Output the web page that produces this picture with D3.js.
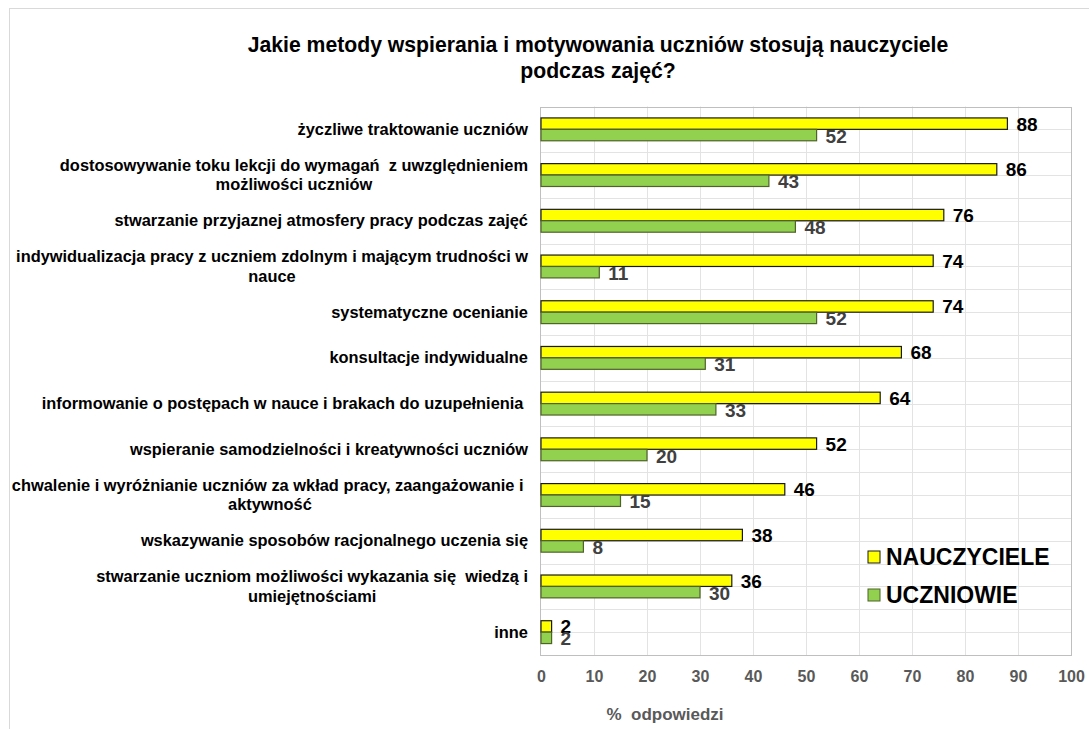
<!DOCTYPE html>
<html>
<head>
<meta charset="utf-8">
<script src="https://cdn.jsdelivr.net/npm/d3@7"></script>
<style>
  html, body { margin: 0; padding: 0; background: #fff; }
  svg text { font-family: "Liberation Sans", Arial, sans-serif; }
</style>
</head>
<body>
<svg id="chart" width="1089" height="729"></svg>
<script>
const categories = [
  "życzliwe traktowanie uczniów",
  "dostosowywanie toku lekcji do wymagań  z uwzględnieniem\nmożliwości uczniów",
  "stwarzanie przyjaznej atmosfery pracy podczas zajęć",
  "indywidualizacja pracy z uczniem zdolnym i mającym trudności w\nnauce",
  "systematyczne ocenianie",
  "konsultacje indywidualne",
  "informowanie o postępach w nauce i brakach do uzupełnienia ",
  "wspieranie samodzielności i kreatywności uczniów",
  "chwalenie i wyróżnianie uczniów za wkład pracy, zaangażowanie i \naktywność",
  "wskazywanie sposobów racjonalnego uczenia się",
  "stwarzanie uczniom możliwości wykazania się  wiedzą i\numiejętnościami",
  "inne"
];
const nauczyciele = [88, 86, 76, 74, 74, 68, 64, 52, 46, 38, 36, 2];
const uczniowie   = [52, 43, 48, 11, 52, 31, 33, 20, 15, 8, 30, 2];
const seriesNames = ["NAUCZYCIELE", "UCZNIOWIE"];
const xTicks = [0, 10, 20, 30, 40, 50, 60, 70, 80, 90, 100];
const titleLines = ["Jakie metody wspierania i motywowania uczniów stosują nauczyciele", "podczas zajęć?"];
const xAxisTitle = "%  odpowiedzi";

const colors = { yellow: "#ffff00", green: "#92d050", yStroke: "#1a1a1a", gStroke: "#4f6228" };

const svg = d3.select("#chart");
const plot = { left: 541, right: 1071, top: 106.5, bottom: 655 };

const x = d3.scaleLinear().domain([0, 100]).range([plot.left, plot.right]);
const y = d3.scaleBand().domain(d3.range(categories.length)).range([plot.top, plot.bottom]).padding(0);
const bw = y.bandwidth();
const bh = bw / 4;

// outer chart border
svg.append("rect").attr("x", 9.5).attr("y", 8.5).attr("width", 1200).attr("height", 900)
  .attr("fill", "none").attr("stroke", "#d9d9d9");

// grid
const g = svg.append("g");
g.selectAll("line.vg").data(xTicks.slice(1, -1)).join("line")
  .attr("x1", d => Math.round(x(d)) + 0.5).attr("x2", d => Math.round(x(d)) + 0.5)
  .attr("y1", plot.top).attr("y2", plot.bottom).attr("stroke", "#e3e3e3");
const hLines = d3.range(1, categories.length * 2).map(i => plot.top + i * bw / 2);
g.selectAll("line.hg").data(hLines).join("line")
  .attr("x1", plot.left).attr("x2", plot.right)
  .attr("y1", d => Math.round(d) + 0.5).attr("y2", d => Math.round(d) + 0.5).attr("stroke", "#e3e3e3");

// plot border
g.append("rect").attr("x", plot.left - 0.5).attr("y", Math.round(plot.top) + 0.5)
  .attr("width", plot.right - plot.left + 1).attr("height", plot.bottom - Math.round(plot.top))
  .attr("fill", "none").attr("stroke", "#bfbfbf");

// bars
const data = categories.map((c, i) => ({ i, n: nauczyciele[i], u: uczniowie[i] }));
const center = i => y(i) + bw / 2;

svg.selectAll("rect.bn").data(data).join("rect")
  .attr("x", x(0)).attr("y", d => center(d.i) - bh)
  .attr("width", d => x(d.n) - x(0)).attr("height", bh)
  .attr("fill", colors.yellow).attr("stroke", colors.yStroke).attr("stroke-width", 1.2);
svg.selectAll("rect.bu").data(data).join("rect")
  .attr("x", x(0)).attr("y", d => center(d.i))
  .attr("width", d => x(d.u) - x(0)).attr("height", bh)
  .attr("fill", colors.green).attr("stroke", colors.gStroke).attr("stroke-width", 1.2);

// data labels
svg.selectAll("text.ln").data(data).join("text")
  .attr("x", d => x(d.n) + 9).attr("y", d => center(d.i) - bh / 2 + 7)
  .attr("font-size", 19).attr("font-weight", "bold").attr("fill", "#000")
  .text(d => d.n);
svg.selectAll("text.lu").data(data).join("text")
  .attr("x", d => x(d.u) + 9).attr("y", d => center(d.i) + bh / 2 + 7.5)
  .attr("font-size", 19).attr("font-weight", "bold").attr("fill", "#404040")
  .text(d => d.u);

// category labels
const labelRight = 528;
const lineH = 19.5;
categories.forEach((c, i) => {
  const lines = c.split("\n");
  const t = svg.append("text").attr("font-size", 16.4).attr("font-weight", "bold")
    .attr("fill", "#000").style("white-space", "pre");
  const spans = lines.map((l, k) => t.append("tspan").text(l));
  const widths = spans.map(s => s.node().getComputedTextLength());
  const maxW = d3.max(widths);
  const cx = labelRight - maxW / 2;
  const y0 = center(i) - (lines.length - 1) * lineH / 2 + 5.5;
  spans.forEach((s, k) => s.attr("x", cx).attr("y", y0 + k * lineH).attr("text-anchor", "middle"));
});

// x axis
const ax = svg.append("g").attr("transform", `translate(0,${plot.bottom})`)
  .call(d3.axisBottom(x).tickValues(xTicks).tickSize(0).tickPadding(16));
ax.select(".domain").remove();
ax.selectAll("text").attr("font-size", 16).attr("font-weight", "bold").attr("fill", "#595959")
  .attr("font-family", "'Liberation Sans', Arial, sans-serif");

svg.append("text").attr("x", 665).attr("y", 720).attr("text-anchor", "middle")
  .attr("font-size", 17).attr("font-weight", "bold").attr("fill", "#595959")
  .style("white-space", "pre").text(xAxisTitle);

// title
svg.selectAll("text.title").data(titleLines).join("text")
  .attr("x", 598).attr("y", (d, i) => 52 + i * 26).attr("text-anchor", "middle")
  .attr("font-size", 21.2).attr("font-weight", "bold").attr("fill", "#000")
  .text(d => d);

// legend
const legend = svg.append("g");
const legY = [557, 595];
const legCol = [[colors.yellow, colors.yStroke], [colors.green, colors.gStroke]];
seriesNames.forEach((s, i) => {
  legend.append("rect").attr("x", 868).attr("y", legY[i] - 6).attr("width", 12).attr("height", 12)
    .attr("fill", legCol[i][0]).attr("stroke", legCol[i][1]);
  legend.append("text").attr("x", 886).attr("y", legY[i] + 8).attr("font-size", 23)
    .attr("font-weight", "bold").attr("fill", "#000").text(s);
});
</script>
</body>
</html>
